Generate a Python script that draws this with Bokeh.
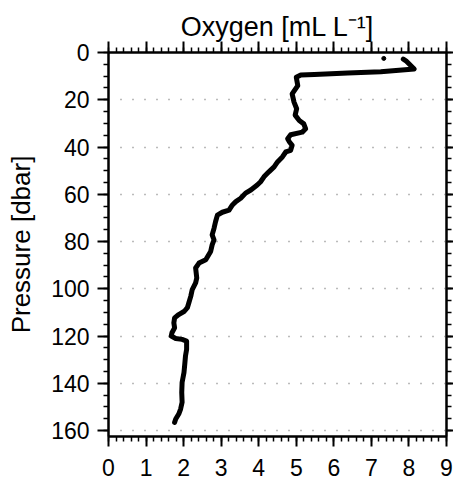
from bokeh.plotting import figure
from bokeh.models import Range1d, LinearAxis, SingleIntervalTicker, Grid, ColumnDataSource
from bokeh.embed import file_html
from bokeh.resources import INLINE

# Profile data (oxygen [mL/L], pressure [dbar])
oxygen = [7.85, 7.92, 8.14, 7.25, 6.37, 5.48, 5.12, 5.00,
          5.04, 4.89, 4.94, 5.01, 4.97, 5.08, 5.20, 5.25, 5.16, 4.85, 4.77, 4.82,
          4.89, 4.85, 4.72, 4.63, 4.50, 4.41, 4.27, 4.14, 4.05,
          3.96, 3.79, 3.65, 3.52, 3.39, 3.30, 3.21, 3.03, 2.90, 2.85, 2.81, 2.76,
          2.81, 2.76, 2.72, 2.59, 2.41, 2.32, 2.35,
          2.32, 2.23, 2.19, 2.14, 2.10, 2.02, 1.87, 1.76, 1.74, 1.76, 1.69, 1.67,
          1.79, 1.96, 2.08, 2.08, 2.05, 2.03, 2.01, 1.96, 1.95, 1.96, 1.92, 1.87,
          1.79, 1.76]
pressure = [2.8, 3.5, 7.0, 8.1, 8.7, 9.3, 9.5, 10.5,
            14.0, 17.5, 21.0, 23.8, 26.5, 28.8, 30.2, 32.3, 33.7, 34.8, 36.5, 37.9,
            39.3, 41.4, 42.1, 44.2, 46.3, 48.4, 50.5, 52.6, 54.7,
            56.1, 58.2, 59.5, 61.7, 63.1, 64.5, 66.7, 67.6, 68.8, 71.6, 74.4, 77.2,
            79.3, 81.4, 84.2, 87.7, 89.1, 91.2, 95.4,
            97.5, 100.3, 103.2, 105.9, 108.0, 109.5, 110.9, 112.3, 114.4, 116.5, 118.6, 120.0,
            121.0, 121.4, 122.1, 125.6, 128.4, 132.0, 135.4, 139.6, 143.8, 148.0, 150.9, 153.0,
            155.1, 156.5]
# isolated surface sample
dot_oxygen = [7.33]
dot_pressure = [2.5]

x_ticks_interval = 1
y_ticks_interval = 20

FONT = "Liberation Sans"

p = figure(frame_width=338, frame_height=384,
           x_range=Range1d(0, 9), y_range=Range1d(162.5, 0),
           output_backend="svg", toolbar_location=None,
           x_axis_location=None, y_axis_location=None,
           min_border_left=108, min_border_top=52, min_border_bottom=47,
           min_border_right=7)
p.grid.visible = False
p.outline_line_color = "black"
p.outline_line_width = 2
p.background_fill_color = "white"
p.border_fill_color = "white"

xt = SingleIntervalTicker(interval=x_ticks_interval, num_minor_ticks=5)
yt = SingleIntervalTicker(interval=y_ticks_interval, num_minor_ticks=4)

def style(ax, labels=True, major=10, minor=5):
    ax.major_tick_out = major
    ax.major_tick_in = 0
    ax.minor_tick_out = minor
    ax.minor_tick_in = 0
    ax.major_tick_line_width = 2
    ax.minor_tick_line_width = 1.5
    ax.major_tick_line_color = "black"
    ax.minor_tick_line_color = "black"
    ax.axis_line_width = 2
    ax.axis_line_color = "black"
    ax.axis_label_text_font = FONT
    ax.axis_label_text_font_style = "normal"
    ax.axis_label_text_font_size = "26px"
    ax.axis_label_text_color = "black"
    ax.major_label_text_font = FONT
    if labels:
        ax.major_label_text_color = "black"
        ax.major_label_text_font_size = "23px"
        ax.major_label_standoff = 8
    else:
        ax.major_label_text_color = None
        ax.major_label_text_font_size = "1px"
        ax.major_label_standoff = 0

bottom = LinearAxis(ticker=xt)
style(bottom, True, 10, 5)
bottom.major_label_standoff = 12
p.add_layout(bottom, "below")

top = LinearAxis(ticker=xt, axis_label="Oxygen [mL L\u207b\u00b9]")
style(top, False, 11, 5)
top.axis_label_text_font_size = "27px"
top.axis_label_standoff = 0
p.add_layout(top, "above")

left = LinearAxis(ticker=yt, axis_label="Pressure [dbar]")
style(left, True, 11, 5)
left.axis_label_standoff = 12
p.add_layout(left, "left")

right = LinearAxis(ticker=yt)
style(right, False, 7, 5)
p.add_layout(right, "right")

grid = Grid(dimension=1, ticker=yt, grid_line_color="#777777",
            grid_line_width=1.5, grid_line_dash="1 11")
p.add_layout(grid)

src = ColumnDataSource(dict(x=oxygen, y=pressure))
p.line("x", "y", source=src, line_color="black", line_width=5,
       line_join="round", line_cap="round")
p.scatter(dot_oxygen, dot_pressure, size=4, color="black")

open("out.html", "w").write(file_html(p, INLINE))
